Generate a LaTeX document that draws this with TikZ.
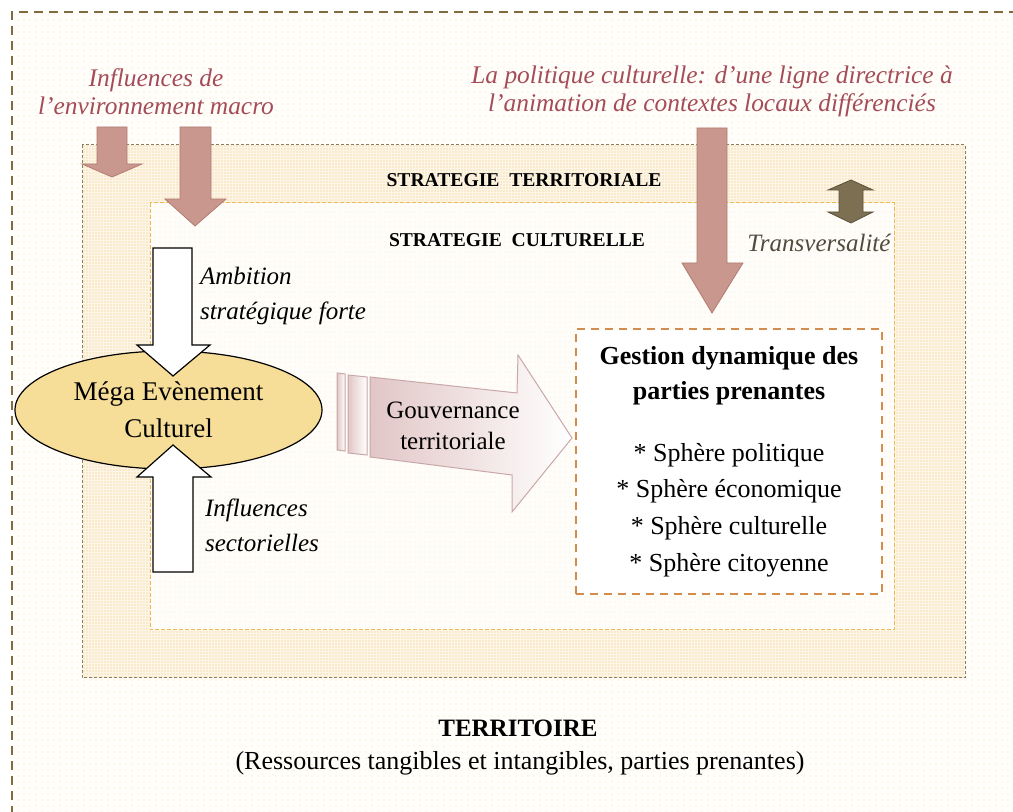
\documentclass[tikz,border=0pt]{standalone}
\usepackage{fontspec}
\setmainfont{Liberation Serif}
\usetikzlibrary{shapes.geometric, patterns.meta}

\definecolor{fondext}{RGB}{255,254,251}
\definecolor{fondterr}{RGB}{253,246,232}
\definecolor{fondcult}{RGB}{255,253,249}
\definecolor{pointjaune}{RGB}{240,200,120}
\definecolor{cadreext}{RGB}{128,108,62}
\definecolor{cadreterr}{RGB}{140,125,95}
\definecolor{cadrecult}{RGB}{236,186,82}
\definecolor{cadregest}{RGB}{210,140,75}
\definecolor{rosebrun}{RGB}{201,151,141}
\definecolor{rosebord}{RGB}{176,124,114}
\definecolor{kaki}{RGB}{125,111,82}
\definecolor{kakibord}{RGB}{90,80,58}
\definecolor{rougetexte}{RGB}{164,76,88}
\definecolor{gristexte}{RGB}{80,75,62}
\definecolor{jauneell}{RGB}{246,222,152}
\definecolor{gouvrose}{RGB}{226,198,198}
\definecolor{gouvbord}{RGB}{200,168,168}

\tikzset{
  fleche/.style={fill=rosebrun, draw=rosebord, line width=0.4pt},
  blanche/.style={fill=white, draw=black, line width=0.6pt},
  gouvfleche/.style={left color=gouvrose, right color=white, draw=gouvbord, line width=0.5pt},
  rougeit/.style={text=rougetexte, font=\fontsize{12.7}{14}\selectfont\itshape, align=center},
  noirit/.style={font=\fontsize{12.5}{17.5}\selectfont\itshape, align=left, anchor=west},
  strat/.style={font=\bfseries\fontsize{9.8}{11}\selectfont},
  sphere/.style={font=\fontsize{13}{18.3}\selectfont, align=center}
}

\begin{document}
\begin{tikzpicture}[x=0.5pt, y=-0.5pt, >=latex]

    \useasboundingbox (0,0) rectangle (1013,812);
    \clip (0,0) rectangle (1013,812);

    % cadres
    \fill[fondext] (12,12) rectangle (1013,812);
    \fill[pattern={Dots[distance=3pt, radius=0.35pt]}, pattern color=pointjaune!55] (12,12) rectangle (1013,812);
    \draw[cadreext, line width=0.7pt, dash pattern=on 4.5pt off 3pt] (12,830) -- (12,12) -- (1030,12);

    \fill[fondterr] (82,145) rectangle (965,678);
    \fill[pattern={Dots[distance=1.5pt, radius=0.4pt]}, pattern color=pointjaune!60] (82,145) rectangle (965,678);
    \draw[cadreterr, line width=0.5pt, dash pattern=on 1.5pt off 1pt] (82,145) rectangle (965,678);

    \fill[fondcult] (150,203) rectangle (894,630);
    \fill[pattern={Dots[distance=2.5pt, radius=0.35pt]}, pattern color=pointjaune!35] (150,203) rectangle (894,630);
    \draw[cadrecult, line width=0.5pt, dash pattern=on 2pt off 1pt] (150,203) rectangle (894,630);

    \node[draw=cadregest, fill=white, line width=1.2pt, dash pattern=on 4pt off 3pt,
          minimum width=153pt, minimum height=132.5pt] (gestion) at (729,461.5) {};

    \node[ellipse, draw=black, fill=jauneell, line width=0.6pt,
          minimum width=153.5pt, minimum height=59pt, inner sep=0pt] (mega) at (168.5,410) {};

    % fleches blanches
    \draw[blanche] (153,248) -- (192,248) -- (192,345) -- (210,345) -- (173,376) -- (137,345) -- (153,345) -- cycle;
    \draw[blanche] (153,572) -- (193,572) -- (193,477) -- (211,477) -- (173,445) -- (137,477) -- (153,477) -- cycle;

    % fleches macro et politique
    \draw[fleche] (97,127) -- (127,127) -- (127,164) -- (142,164) -- (112,177) -- (82,164) -- (97,164) -- cycle;
    \draw[fleche] (180,127) -- (211,127) -- (211,199) -- (226,199) -- (195,226) -- (165,199) -- (180,199) -- cycle;
    \draw[fleche] (697,128) -- (727,128) -- (727,263) -- (743,263) -- (712,313) -- (682,263) -- (697,263) -- cycle;

    \draw[fill=kaki, draw=kakibord, line width=0.4pt] (851,180) -- (873,190) -- (863,190) -- (863,212) -- (873,212)
        -- (851,223) -- (828,212) -- (839,212) -- (839,190) -- (828,190) -- cycle;

    % gouvernance
    \draw[gouvfleche] (337,373) -- (345,374) -- (345,451) -- (337,450) -- cycle;
    \draw[gouvfleche] (348,375) -- (367,377) -- (367,455) -- (348,453) -- cycle;
    \draw[gouvfleche] (370,377) -- (517,393) -- (518,355) -- (572,438)
        -- (512,512) -- (512,475) -- (370,457) -- cycle;

    % textes
    \node[rougeit] (macro) at (156,92) {Influences de\\l'environnement macro};
    \node[rougeit] (politique) at (712,91) {La politique culturelle: d'une ligne directrice à\\l'animation de contextes locaux différenciés};

    \node[strat] (territ) at (524,180) {STRATEGIE\ \ TERRITORIALE};
    \node[strat] (cultur) at (517,240) {STRATEGIE\ \ CULTURELLE};
    \node[font=\fontsize{12.5}{15}\selectfont\itshape, text=gristexte] (transv) at (819,243) {Transversalité};

    \node[noirit] (ambition) at (193,296) {Ambition\\stratégique forte};
    \node[noirit] (sectoriel) at (198,525) {Influences\\sectorielles};

    \node[font=\fontsize{13.5}{18.5}\selectfont, align=center] (megatxt) at (mega) {Méga Evènement\\Culturel};
    \node[font=\fontsize{12.5}{15.5}\selectfont, align=center] (gouv) at (453,426) {Gouvernance\\territoriale};

    \node[font=\bfseries\fontsize{13}{17.5}\selectfont, align=center] (gtitre) at (729,376) {Gestion dynamique des\\parties prenantes};
    \node[sphere] (spheres) at (729,510) {* Sphère politique\\* Sphère économique\\* Sphère culturelle\\* Sphère citoyenne};

    \node[font=\bfseries\fontsize{12.5}{15}\selectfont] (territoire) at (518,728) {TERRITOIRE};
    \node[font=\fontsize{13}{15}\selectfont] (ressources) at (520,763) {(Ressources tangibles et intangibles, parties prenantes)};

\end{tikzpicture}
\end{document}
